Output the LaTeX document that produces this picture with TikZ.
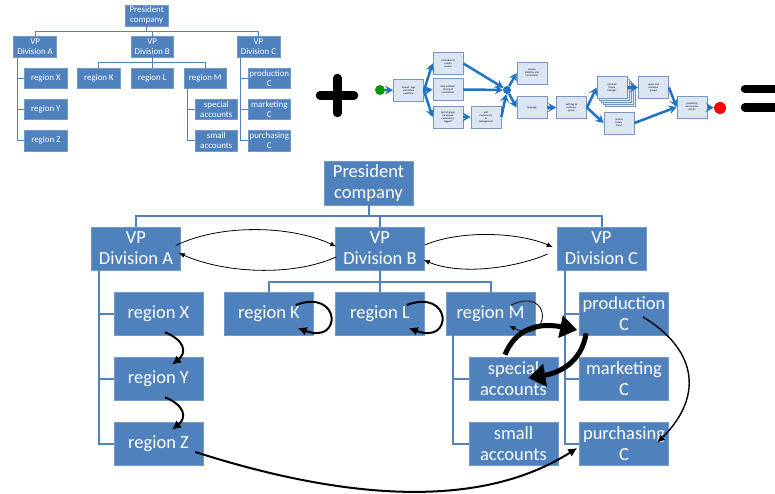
\documentclass[tikz,border=0pt]{standalone}
\usepackage{fontspec}
\setmainfont{Carlito}
\usetikzlibrary{arrows.meta,calc}

\definecolor{orgblue}{RGB}{79,129,189}
\definecolor{flowblue}{RGB}{30,115,195}
\definecolor{taskfill}{RGB}{220,230,242}
\definecolor{taskedge}{RGB}{120,150,190}

\newcommand{\orgchart}[1]{%
  \node[orgbox, minimum height=44] (#1pres) at (368.5,183) {President\\company};
  \node[orgbox] (#1vpA) at (136,248.5) {VP\\Division A};
  \node[orgbox] (#1vpB) at (380,248.5) {VP\\Division B};
  \node[orgbox] (#1vpC) at (601.5,248.5) {VP\\Division C};
  \node[orgbox] (#1regX) at (158.5,313.5) {region X};
  \node[orgbox] (#1regY) at (158.5,378.5) {region Y};
  \node[orgbox] (#1regZ) at (158.5,443.5) {region Z};
  \node[orgbox] (#1regK) at (269,313.5) {region K};
  \node[orgbox] (#1regL) at (380,313.5) {region L};
  \node[orgbox] (#1regM) at (490.5,313.5) {region M};
  \node[orgbox] (#1special) at (513.5,378.5) {special\\accounts};
  \node[orgbox] (#1small) at (513.5,443.5) {small\\accounts};
  \node[orgbox] (#1prod) at (624,313.5) {production\\C};
  \node[orgbox] (#1mark) at (624,378.5) {marketing\\C};
  \node[orgbox] (#1purch) at (624,443.5) {purchasing\\C};
  \coordinate (#1spineA) at (99,270);
  \coordinate (#1spineM) at (453,335);
  \coordinate (#1spineC) at (565,270);
  \draw[orgline] (#1pres.south) -- ++(0,11);
  \draw[orgline] (#1vpA.north) -- ++(0,-11) -| (#1vpC.north);
  \draw[orgline] (#1vpB.north) -- ++(0,-11);
  \draw[orgline] (#1vpB.south) -- ++(0,12);
  \draw[orgline] (#1regK.north) -- ++(0,-10) -| (#1regM.north);
  \draw[orgline] (#1regL.north) -- ++(0,-10);
  \draw[orgline] (#1spineA) |- (#1regZ.west);
  \draw[orgline] (#1spineM) |- (#1small.west);
  \draw[orgline] (#1spineC) |- (#1purch.west);
  \foreach \r in {regX,regY}
    \draw[orgline] (#1spineA |- #1\r.west) -- (#1\r.west);
  \draw[orgline] (#1spineM |- #1special.west) -- (#1special.west);
  \foreach \r in {prod,mark}
    \draw[orgline] (#1spineC |- #1\r.west) -- (#1\r.west);
}

\begin{document}
\begin{tikzpicture}[x=1pt, y=-1pt,
  orgbox/.style = {rectangle, fill=orgblue, draw=orgblue!80!white, line width=0.6,
    text=white, align=center, inner sep=0pt, minimum width=89, minimum height=43,
    font=\fontsize{18.5}{21}\selectfont},
  orgline/.style = {draw=orgblue, line width=2},
  taskbox/.style = {rectangle, fill=taskfill, draw=taskedge, line width=0.8,
    align=center, inner sep=0pt, minimum width=30, minimum height=22,
    font=\fontsize{2.6}{3}\selectfont},
  flowarrow/.style = {draw=flowblue, line width=2.5,
    -{Stealth[length=8pt,width=9pt,inset=3pt]}},
  thinarrow/.style = {draw=black, line width=0.8, -{Latex[length=6pt,width=5pt]}},
  linkarrow/.style = {draw=black, line width=1.4, -{Latex[length=8pt,width=7pt]}},
  midarrow/.style = {draw=black, line width=2, -{Latex[length=9pt,width=9pt]}},
  heavyarrow/.style = {draw=black, line width=5, -{Triangle[length=17pt,width=22pt]}}]
  \useasboundingbox (0,0) rectangle (775,494);

  \begin{scope}[shift={(-30.2,-72.3)}, scale=0.48, transform shape,
      orgline/.append style={line width=1}]
    \orgchart{s}
  \end{scope}

  \draw[line width=8.5, line cap=round] (337.5,78) -- (337.5,113);
  \draw[line width=8.5, line cap=round] (320,95.5) -- (354,95.5);

  \node[circle, fill=green!60!black, inner sep=0pt, minimum size=10] (go) at (380,90) {};
  \node[circle, fill=flowblue, inner sep=0pt, minimum size=8] (hub) at (507,90) {};
  \node[circle, fill=red, inner sep=0pt, minimum size=12] (stop) at (720,108) {};
  \node[taskbox] (t1) at (408.5,90.5) {inspect, tags\\and define\\questions};
  \node[taskbox] (t2) at (448,63.5) {correction of\\results\\record};
  \node[taskbox] (t3) at (448,89.5) {data architect\\timing of\\correlations};
  \node[taskbox] (t4) at (448,117) {tech changes\\for unique\\customer(s)\\tagged?};
  \node[taskbox] (t5) at (486,117) {add\\customer(s)\\to\\management};
  \node[taskbox] (t6) at (532,73) {include\\statistics and\\correlations};
  \node[taskbox] (t7) at (532,107.5) {language};
  \node[taskbox] (t8) at (571.5,107.5) {with tag to\\customer\\group};
  \foreach \d in {8,6,4,2}
    \draw[fill=taskfill, draw=taskedge, line width=0.6] (597+\d,77+\d) rectangle +(30,21);
  \node[taskbox] (t9) at (612,87.5) {calculate\\future\\changes};
  \node[taskbox] (t10) at (653.5,87.5) {select end\\customer\\groups};
  \node[taskbox] (t11) at (619,123) {record\\future\\trend};
  \node[taskbox] (t12) at (692,107) {presenting\\and process\\results};

  \draw[flowarrow] (go) -- (t1);
  \foreach \t in {t2,t3,t4}
    \draw[flowarrow] (t1.east) -- (\t.west);
  \foreach \t in {t2,t3,t5}
    \draw[flowarrow] (\t.east) -- (hub);
  \draw[flowarrow] (t4) -- (t5);
  \foreach \t in {t6,t7}
    \draw[flowarrow] (hub) -- (\t.west);
  \draw[flowarrow] (t7) -- (t8);
  \draw[flowarrow] (t8.east) -- (t9.west);
  \draw[flowarrow] (t8.east) -- (t11.west);
  \draw[flowarrow] (t9) -- (t10);
  \draw[flowarrow] (t10.east) -- (t12.west);
  \draw[flowarrow] (t11.east) -- (t12.west);
  \draw[flowarrow] (t12) -- (stop);

  \draw[line width=8.5, line cap=round] (745,89) -- (790,89);
  \draw[line width=8.5, line cap=round] (745,107.5) -- (790,107.5);

  \orgchart{m}

  \draw[thinarrow] ($(mvpA.east)+(-5,-3)$) .. controls +(45,-22) and +(-45,-21) .. ($(mvpB.west)+(1,-2)$);
  \draw[thinarrow] ($(mvpB.west)+(1,8.5)$) .. controls +(-45,20) and +(45,20) .. ($(mvpA.east)+(-2,4.5)$);
  \draw[thinarrow] ($(mvpB.east)+(0,-3.5)$) .. controls +(35,-15) and +(-35,-15) .. ($(mvpC.west)+(-4,-1.5)$);
  \draw[thinarrow] ($(mvpC.west)+(-9,5.5)$) .. controls +(-35,15) and +(35,15) .. ($(mvpB.east)+(-1,11.5)$);
  \draw[midarrow] ($(mregK.east)+(-18,-8.5)$) .. controls +(45,-17) and +(45,17) .. ($(mregK.east)+(-16,14.5)$);
  \draw[midarrow] ($(mregL.east)+(-18,-8.5)$) .. controls +(45,-17) and +(45,17) .. ($(mregL.east)+(-16,14.5)$);
  \draw[thinarrow] ($(mregM.east)+(-24,-8.5)$) .. controls +(42,-20) and +(42,20) .. ($(mregM.east)+(-26,12.5)$);
  \draw[midarrow] ($(mregX.south)+(6.5,-3)$) .. controls +(20,8) and +(15,-12) .. ($(mregY.north)+(13.5,8)$);
  \draw[midarrow] ($(mregY.south)+(6.5,-3)$) .. controls +(20,8) and +(15,-12) .. ($(mregZ.north)+(13.5,8)$);
  \draw[midarrow] ($(mregZ.east)+(-8,8.5)$) .. controls +(150,48) and +(-97,62) .. ($(mpurch.west)+(-2,4.5)$);
  \draw[linkarrow] ($(mprod.center)+(19,3.5)$) .. controls +(50,30) and +(50,-50) .. ($(mpurch.center)+(33,-0.5)$);
  \draw[heavyarrow] ($(mspecial.north)+(-8.5,-2)$) .. controls +(10,-25) and +(-40,-8) .. ($(mprod.west)+(-2,16.5)$);
  \draw[heavyarrow] ($(mprod.south west)+(7,-2)$) .. controls +(-5,30) and +(30,-5) .. ($(mspecial.east)+(-30,-0.5)$);
\end{tikzpicture}
\end{document}
